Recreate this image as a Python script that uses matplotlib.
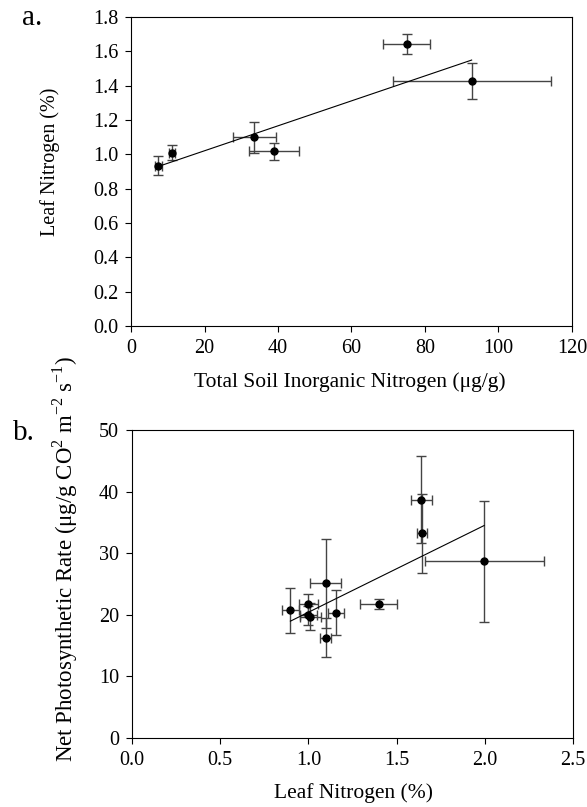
import matplotlib.pyplot as plt
import numpy as np

plt.rcParams['font.family'] = ['Liberation Serif', 'DejaVu Serif']
plt.rcParams['mathtext.fontset'] = 'custom'
plt.rcParams['mathtext.rm'] = 'Liberation Serif'

# panel a: soil N vs leaf N
soil_n = [7.4, 11.2, 33.6, 38.9, 75.1, 92.7]
soil_n_err = [1.0, 0.9, 5.9, 6.8, 6.4, 21.5]
leaf_n_a = [0.935, 1.01, 1.10, 1.018, 1.643, 1.429]
leaf_n_a_err = [0.056, 0.044, 0.09, 0.051, 0.06, 0.105]

# panel b: leaf N vs net photosynthesis
leaf_n_b = [0.898, 1.0, 1.0, 1.011, 1.098, 1.098, 1.155, 1.398, 1.640, 1.644, 1.997]
leaf_n_b_err = [0.05, 0.055, 0.05, 0.06, 0.089, 0.03, 0.045, 0.106, 0.06, 0.03, 0.337]
photo = [20.7, 21.7, 19.9, 19.7, 25.1, 16.3, 20.35, 21.7, 38.7, 33.2, 28.65]
photo_err = [3.6, 1.6, 1.5, 2.2, 7.2, 3.2, 3.6, 0.8, 7.1, 6.4, 9.9]

fig = plt.figure(figsize=(5.87, 8.07), dpi=100)
ax1 = fig.add_axes([0.2232, 0.596, 0.7512, 0.3829])
ax2 = fig.add_axes([0.2249, 0.0855, 0.7511, 0.3817])

err_kw = dict(fmt='o', color='black', ecolor='#444444', elinewidth=1,
              capsize=3.5, capthick=1, markersize=5)

# panel a
ax1.errorbar(soil_n, leaf_n_a, xerr=soil_n_err, yerr=leaf_n_a_err, **err_kw)
p = np.polyfit(soil_n, leaf_n_a, 1)
xx = np.array([min(soil_n), max(soil_n)])
ax1.plot(xx, np.polyval(p, xx), color='black', lw=0.8)
ax1.set_xlim(0, 120)
ax1.set_ylim(0, 1.8)
ax1.set_xticks(np.arange(0, 121, 20))
ax1.set_yticks(np.arange(0, 1.81, 0.2))
ax1.set_yticklabels(['%.1f' % v for v in np.arange(0, 1.81, 0.2)])
ax1.set_xlabel('Total Soil Inorganic Nitrogen (\u03bcg/g)', fontsize=15.5, va='center')
ax1.xaxis.set_label_coords(0.497, -0.181)
ax1.set_ylabel('Leaf Nitrogen (%)', fontsize=14.5, va='center')
ax1.yaxis.set_label_coords(-0.183, 0.53)
fig.text(0.0375, 0.969, 'a.', fontsize=21, va='baseline')

# panel b
ax2.errorbar(leaf_n_b, photo, xerr=leaf_n_b_err, yerr=photo_err, **err_kw)
p2 = np.polyfit(leaf_n_b, photo, 1)
xx2 = np.array([min(leaf_n_b), max(leaf_n_b)])
ax2.plot(xx2, np.polyval(p2, xx2), color='black', lw=0.8)
ax2.set_xlim(0, 2.5)
ax2.set_ylim(0, 50)
ax2.set_xticks(np.arange(0, 2.51, 0.5))
ax2.set_xticklabels(['%.1f' % v for v in np.arange(0, 2.51, 0.5)])
ax2.set_yticks(np.arange(0, 51, 10))
ax2.set_xlabel('Leaf Nitrogen (%)', fontsize=15.5, va='center')
ax2.xaxis.set_label_coords(0.503, -0.179)
ax2.set_ylabel('Net Photosynthetic Rate (\u03bcg/g CO$^{2}$ m$^{-2}$ s$^{-1}$)',
               fontsize=16.5, va='center')
ax2.yaxis.set_label_coords(-0.152, 0.58)
fig.text(0.022, 0.4548, 'b.', fontsize=21, va='baseline')

for ax in (ax1, ax2):
    ax.tick_params(direction='out', length=4.3, width=0.8, labelsize=14.5, pad=5)
    for s in ax.spines.values():
        s.set_linewidth(0.8)

fig.savefig('out.png', dpi=100)
